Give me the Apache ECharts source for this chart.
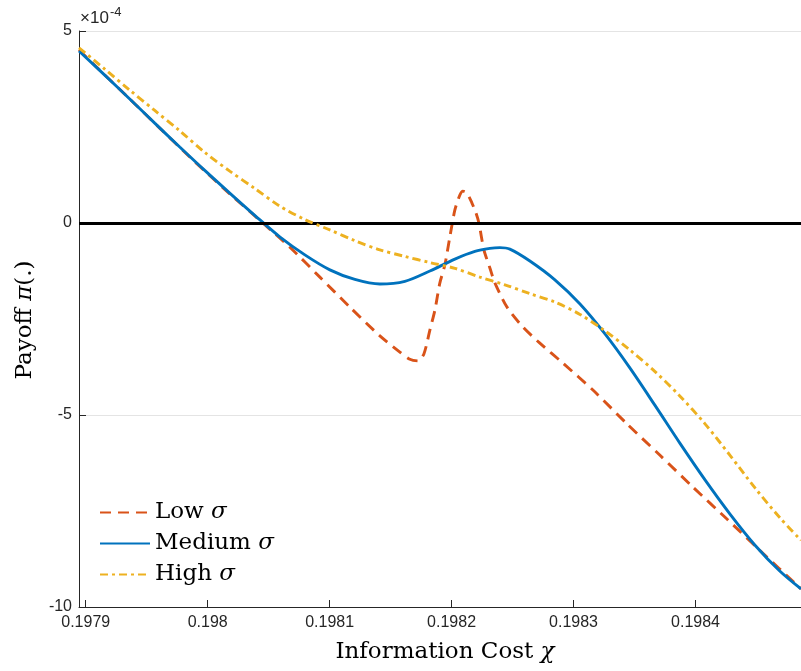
<!DOCTYPE html>
<html><head><meta charset="utf-8">
<script src="https://cdn.jsdelivr.net/npm/echarts@6/dist/echarts.min.js"></script>
<style>html,body{margin:0;padding:0;background:#fff}#c{width:801px;height:671px}</style>
</head><body><div id="c"></div>
<script>
// x: information cost chi; y: payoff in units of 1e-4
const xTicks = [0.1979, 0.1980, 0.1981, 0.1982, 0.1983, 0.1984];
const yTickStep = 5;
const xRange = [0.1978945, 0.1984865];
const yRange = [-10, 5];

const xLow = [0.1978945, 0.1979115, 0.1979361, 0.1979607, 0.1979853, 0.1980001, 0.1980181, 0.1980452, 0.1980674, 0.1980920,
  0.1981166, 0.1981412, 0.1981576, 0.1981658, 0.1981724, 0.1981773, 0.1981822, 0.1981863, 0.1981904, 0.1981945,
  0.1981986, 0.1982027, 0.1982068, 0.1982093, 0.1982126, 0.1982167, 0.1982200, 0.1982224, 0.1982265, 0.1982314,
  0.1982355, 0.1982454, 0.1982585, 0.1982724, 0.1982913, 0.1983159, 0.1983438, 0.1983709, 0.1983980, 0.1984258,
  0.1984529, 0.1984865];
const yLow = [4.51, 3.98, 3.23, 2.47, 1.72, 1.28, 0.76, 0.00, -0.63, -1.41,
  -2.19, -2.94, -3.36, -3.55, -3.59, -3.41, -2.79, -2.27, -1.56, -1.09,
  -0.36, 0.34, 0.73, 0.83, 0.78, 0.52, 0.26, 0.00, -0.70, -1.17,
  -1.56, -2.19, -2.71, -3.13, -3.65, -4.35, -5.23, -6.05, -6.88, -7.71,
  -8.53, -9.53];

const xMedium = [0.1978945, 0.1979156, 0.1979361, 0.1979566, 0.1979771, 0.1979976, 0.1980181, 0.1980386, 0.1980591, 0.1980797,
  0.1981002, 0.1981207, 0.1981412, 0.1981617, 0.1981822, 0.1982027, 0.1982191, 0.1982314, 0.1982396, 0.1982478,
  0.1982642, 0.1982847, 0.1983053, 0.1983258, 0.1983463, 0.1983668, 0.1983873, 0.1984078, 0.1984283, 0.1984488,
  0.1984693, 0.1984865];
const yMedium = [4.48, 3.85, 3.23, 2.60, 1.98, 1.37, 0.78, 0.20, -0.36, -0.83,
  -1.22, -1.47, -1.59, -1.52, -1.25, -0.94, -0.74, -0.66, -0.64, -0.68,
  -0.99, -1.48, -2.11, -2.89, -3.78, -4.75, -5.74, -6.69, -7.58, -8.39,
  -9.07, -9.53];

const xHigh = [0.1978945, 0.1979156, 0.1979361, 0.1979566, 0.1979771, 0.1979976, 0.1980181, 0.1980386, 0.1980591, 0.1980797,
  0.1981002, 0.1981207, 0.1981412, 0.1981617, 0.1981822, 0.1982027, 0.1982232, 0.1982437, 0.1982642, 0.1982847,
  0.1983053, 0.1983258, 0.1983463, 0.1983668, 0.1983873, 0.1984078, 0.1984283, 0.1984488, 0.1984693, 0.1984865];
const yHigh = [4.56, 4.01, 3.46, 2.93, 2.40, 1.84, 1.35, 0.90, 0.44, 0.09,
  -0.18, -0.46, -0.70, -0.87, -1.03, -1.18, -1.41, -1.61, -1.84, -2.06,
  -2.38, -2.81, -3.31, -3.87, -4.51, -5.23, -6.05, -6.90, -7.68, -8.26];

const seriesNames = ['Low', 'Medium', 'High'];
const colors = ['#D95319', '#0072BD', '#EDB120'];

const pair = (xs, ys) => xs.map((x, i) => [x, ys[i]]);
const chart = echarts.init(document.getElementById('c'), null, {renderer: 'canvas'});
const axisColor = '#262626';
const gridColor = '#e4e4e4';
const tickFont = {fontFamily: 'Liberation Sans', fontSize: 16, color: axisColor};
const serif = 'DejaVu Serif';

chart.setOption({
  animation: false,
  backgroundColor: '#ffffff',
  grid: {left: 79, right: 0, top: 31, bottom: 64, containLabel: false},
  xAxis: {
    type: 'value', min: xRange[0], max: xRange[1],
    axisLine: {show: true, onZero: false, lineStyle: {color: axisColor, width: 1}},
    axisTick: {show: true, inside: true, length: 7, customValues: xTicks, lineStyle: {color: axisColor}},
    axisLabel: {show: true, customValues: xTicks, margin: 8, ...tickFont,
      formatter: v => String(parseFloat(Number(v).toFixed(4)))},
    splitLine: {show: false}
  },
  yAxis: {
    type: 'value', min: yRange[0], max: yRange[1], interval: yTickStep,
    axisLine: {show: true, onZero: false, lineStyle: {color: axisColor, width: 1}},
    axisTick: {show: true, inside: true, length: 7, lineStyle: {color: axisColor}},
    axisLabel: {margin: 7, ...tickFont},
    splitLine: {show: true, lineStyle: {color: gridColor, width: 1}}
  },
  legend: {
    show: true, orient: 'vertical', left: 94, top: 496,
    data: seriesNames.map(n => n + ' σ'),
    itemWidth: 50, itemHeight: 14, itemGap: 8,
    itemStyle: {opacity: 0},
    formatter: name => '{t|' + name.split(' ')[0] + ' }{s|σ}',
    textStyle: {rich: {
      t: {fontFamily: serif, fontSize: 23, color: '#000', lineHeight: 28},
      s: {fontFamily: serif, fontStyle: 'italic', fontSize: 23, color: '#000', lineHeight: 28}
    }}
  },
  graphic: [
    {type: 'text', left: 80, top: 10, style: {text: '×10', font: '17px "Liberation Sans"', fill: axisColor}},
    {type: 'text', left: 110, top: 6, style: {text: '-4', font: '13px "Liberation Sans"', fill: axisColor}},
    {type: 'text', x: 445, y: 652, style: {text: '{a|Information Cost }{b|χ}', align: 'center', verticalAlign: 'middle',
      rich: {a: {fontFamily: serif, fontSize: 23, fill: '#000'}, b: {fontFamily: serif, fontStyle: 'italic', fontSize: 23, fill: '#000'}}}},
    {type: 'text', x: 25, y: 320, rotation: Math.PI / 2, style: {text: '{a|Payoff }{b|π}{a|(.)}', align: 'center', verticalAlign: 'middle',
      rich: {a: {fontFamily: serif, fontSize: 23, fill: '#000'}, b: {fontFamily: serif, fontStyle: 'italic', fontSize: 23, fill: '#000'}}}}
  ],
  series: [
    {type: 'line', name: '_grid', data: [], z: 0, silent: true,
      markLine: {silent: true, symbol: 'none', label: {show: false}, animation: false,
        lineStyle: {color: gridColor, width: 1, type: 'solid'},
        data: xTicks.map(v => ({xAxis: v}))}},
    {type: 'line', name: '_zero', data: [], z: 1, silent: true,
      markLine: {silent: true, symbol: 'none', label: {show: false}, animation: false,
        lineStyle: {color: '#000', width: 3.2, type: 'solid'},
        data: [{yAxis: 0}]}},
    {type: 'line', name: 'Low σ', data: pair(xLow, yLow), showSymbol: false, symbol: 'none', z: 3,
      smooth: 0.25, color: colors[0],
      lineStyle: {color: colors[0], width: 2.9, type: [11, 7]}},
    {type: 'line', name: 'Medium σ', data: pair(xMedium, yMedium), showSymbol: false, symbol: 'none', z: 4,
      smooth: 0.3, color: colors[1],
      lineStyle: {color: colors[1], width: 2.9, type: 'solid'}},
    {type: 'line', name: 'High σ', data: pair(xHigh, yHigh), showSymbol: false, symbol: 'none', z: 5,
      smooth: 0.3, color: colors[2],
      lineStyle: {color: colors[2], width: 2.9, type: [8, 4, 3, 4]}}
  ]
});
</script></body></html>
